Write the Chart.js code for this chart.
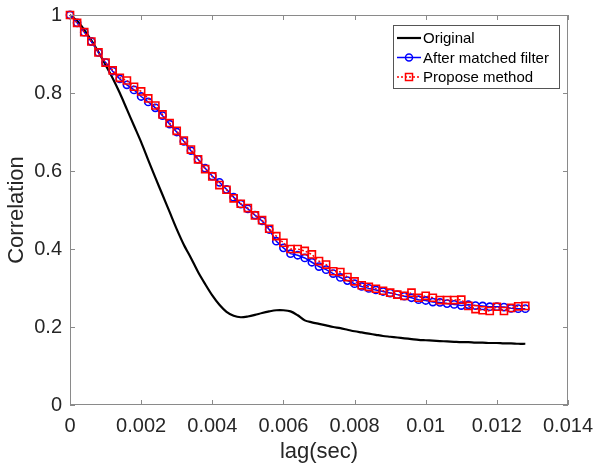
<!DOCTYPE html>
<html>
<head>
<meta charset="utf-8">
<script src="https://cdn.jsdelivr.net/npm/chart.js@4.4.1/dist/chart.umd.min.js"></script>
<style>
  body { margin: 0; background: #fff; }
  canvas { display: block; }
</style>
</head>
<body>
<canvas id="corr-chart" width="595" height="469"></canvas>
<script>
// lag axis (sec), one sample every 0.2 ms
const lag = [0, 0.0002, 0.0004, 0.0006, 0.0008, 0.001, 0.0012, 0.0014, 0.0016, 0.0018,
  0.002, 0.0022, 0.0024, 0.0026, 0.0028, 0.003, 0.0032, 0.0034, 0.0036, 0.0038,
  0.004, 0.0042, 0.0044, 0.0046, 0.0048, 0.005, 0.0052, 0.0054, 0.0056, 0.0058,
  0.006, 0.0062, 0.0064, 0.0066, 0.0068, 0.007, 0.0072, 0.0074, 0.0076, 0.0078,
  0.008, 0.0082, 0.0084, 0.0086, 0.0088, 0.009, 0.0092, 0.0094, 0.0096, 0.0098,
  0.01, 0.0102, 0.0104, 0.0106, 0.0108, 0.011, 0.0112, 0.0114, 0.0116, 0.0118,
  0.012, 0.0122, 0.0124, 0.0126, 0.0128]

const original = [1.000, 0.985, 0.962, 0.935, 0.905, 0.872, 0.838, 0.800, 0.758, 0.716,
  0.674, 0.628, 0.583, 0.539, 0.495, 0.451, 0.411, 0.377, 0.341, 0.310,
  0.281, 0.257, 0.239, 0.229, 0.225, 0.227, 0.231, 0.236, 0.240, 0.243,
  0.243, 0.240, 0.230, 0.217, 0.212, 0.208, 0.204, 0.200, 0.197, 0.193,
  0.189, 0.186, 0.183, 0.180, 0.177, 0.175, 0.173, 0.171, 0.169, 0.167,
  0.166, 0.165, 0.164, 0.163, 0.162, 0.161, 0.161, 0.160, 0.160, 0.159,
  0.159, 0.158, 0.158, 0.157, 0.157]

const matched = [1.000, 0.980, 0.956, 0.932, 0.904, 0.878, 0.856, 0.836, 0.821, 0.808,
  0.791, 0.777, 0.762, 0.742, 0.720, 0.700, 0.676, 0.652, 0.630, 0.607,
  0.587, 0.571, 0.553, 0.533, 0.515, 0.503, 0.487, 0.472, 0.450, 0.420,
  0.403, 0.388, 0.384, 0.377, 0.366, 0.355, 0.347, 0.337, 0.327, 0.319,
  0.311, 0.304, 0.299, 0.295, 0.291, 0.287, 0.283, 0.279, 0.275, 0.270,
  0.268, 0.264, 0.263, 0.260, 0.258, 0.255, 0.257, 0.255, 0.254, 0.252,
  0.252, 0.251, 0.248, 0.247, 0.247]

const proposed = [1.000, 0.980, 0.956, 0.932, 0.904, 0.878, 0.858, 0.839, 0.832, 0.816,
  0.804, 0.786, 0.768, 0.745, 0.723, 0.703, 0.678, 0.655, 0.630, 0.605,
  0.586, 0.564, 0.552, 0.530, 0.516, 0.505, 0.486, 0.474, 0.452, 0.433,
  0.416, 0.400, 0.400, 0.395, 0.386, 0.369, 0.360, 0.343, 0.341, 0.328,
  0.317, 0.307, 0.303, 0.298, 0.293, 0.288, 0.283, 0.280, 0.288, 0.275,
  0.280, 0.275, 0.269, 0.269, 0.269, 0.270, 0.254, 0.246, 0.243, 0.241,
  0.252, 0.241, 0.249, 0.253, 0.254]

const seriesNames = ["Original", "After matched filter", "Propose method"]
const xTicks = [0, 0.002, 0.004, 0.006, 0.008, 0.01, 0.012, 0.014]
const yTicks = [0, 0.2, 0.4, 0.6, 0.8, 1]

function pts(ys) { return ys.map((y, i) => ({x: lag[i], y: y})) }

const FONT = "'Liberation Sans', Arial, sans-serif"
const AXIS_COLOR = "#8a8a8a"

// matlab style box with inward ticks on all four sides
const boxPlugin = {
  id: "box",
  afterDraw(chart) {
    const ctx = chart.ctx, a = chart.chartArea
    const xs = chart.scales.x, ys = chart.scales.y
    ctx.save()
    ctx.strokeStyle = AXIS_COLOR
    ctx.lineWidth = 1
    ctx.strokeRect(a.left + 0.5, a.top + 0.5, a.right - a.left - 1, a.bottom - a.top - 1)
    ctx.beginPath()
    xTicks.forEach(v => {
      const px = Math.round(xs.getPixelForValue(v)) + 0.5
      ctx.moveTo(px, a.bottom); ctx.lineTo(px, a.bottom - 5)
      ctx.moveTo(px, a.top); ctx.lineTo(px, a.top + 5)
    })
    yTicks.forEach(v => {
      const py = Math.round(ys.getPixelForValue(v)) + 0.5
      ctx.moveTo(a.left, py); ctx.lineTo(a.left + 5, py)
      ctx.moveTo(a.right, py); ctx.lineTo(a.right - 5, py)
    })
    ctx.stroke()

    // legend
    const lx = 393, ly = 25, lw = 166, lh = 63
    ctx.fillStyle = "#fff"
    ctx.fillRect(lx, ly, lw, lh)
    ctx.strokeStyle = "#555"
    ctx.strokeRect(lx + 0.5, ly + 0.5, lw, lh)
    const rows = [38, 57.5, 77]
    ctx.font = "15px " + FONT
    ctx.textBaseline = "middle"
    chart.data.datasets.forEach((ds, i) => {
      const y = rows[i]
      ctx.strokeStyle = ds.borderColor
      ctx.lineWidth = ds.borderWidth
      ctx.setLineDash(ds.borderDash || [])
      ctx.beginPath(); ctx.moveTo(lx + 4, y); ctx.lineTo(lx + 28, y); ctx.stroke()
      ctx.setLineDash([])
      if (ds.pointRadius > 0) {
        ctx.lineWidth = 1.5
        ctx.beginPath()
        if (ds.pointStyle === "rect") ctx.rect(lx + 16 - 3.5, y - 3.5, 7, 7)
        else ctx.arc(lx + 16, y, 3.5, 0, Math.PI * 2)
        ctx.stroke()
      }
      ctx.fillStyle = "#000"
      ctx.fillText(ds.label, lx + 30, y + 1)
    })
    ctx.restore()
  }
}

const config = {
  type: "line",
  data: {
    datasets: [{
      label: seriesNames[0],
      data: pts(original),
      borderColor: "#000000",
      borderWidth: 2.2,
      pointRadius: 0,
      tension: 0.3,
      order: 2,
      clip: false
    }, {
      label: seriesNames[1],
      data: pts(matched),
      borderColor: "#0000ff",
      borderWidth: 1.5,
      pointStyle: "circle",
      pointRadius: 3.6,
      pointBorderWidth: 1.6,
      pointBorderColor: "#0000ff",
      pointBackgroundColor: "rgba(255,255,255,0)",
      order: 1,
      clip: false
    }, {
      label: seriesNames[2],
      data: pts(proposed),
      borderColor: "#ff0000",
      borderWidth: 1.5,
      borderDash: [2, 2],
      pointStyle: "rect",
      pointRadius: 5,
      pointBorderWidth: 1.6,
      pointBorderColor: "#ff0000",
      pointBackgroundColor: "rgba(255,255,255,0)",
      order: 0,
      clip: false
    }]
  },
  options: {
    responsive: false,
    animation: false,
    devicePixelRatio: 1,
    layout: {padding: {top: 15, right: 27, left: 0, bottom: 0}},
    plugins: {legend: {display: false}, tooltip: {enabled: false}},
    scales: {
      x: {
        type: "linear", min: 0, max: 0.014,
        afterBuildTicks: s => { s.ticks = xTicks.map(v => ({value: v})) },
        afterFit: s => { s.height = 64; s.paddingLeft = 0; s.paddingRight = 0 },
        grid: {display: false, drawTicks: false},
        border: {display: false},
        ticks: {
          padding: 9, color: "#262626",
          font: {family: FONT, size: 20},
          callback: v => String(+v.toFixed(4))
        },
        title: {display: true, text: "lag(sec)", color: "#262626", padding: {top: 2},
          font: {family: FONT, size: 22}}
      },
      y: {
        min: 0, max: 1,
        afterBuildTicks: s => { s.ticks = yTicks.map(v => ({value: v})) },
        afterFit: s => { s.width = 70; s.paddingTop = 0; s.paddingBottom = 0 },
        grid: {display: false, drawTicks: false},
        border: {display: false},
        ticks: {
          padding: 8, color: "#262626",
          font: {family: FONT, size: 20},
          callback: v => String(+v.toFixed(1))
        },
        title: {display: true, text: "Correlation", color: "#262626", padding: {bottom: 0},
          font: {family: FONT, size: 22}}
      }
    }
  },
  plugins: [boxPlugin]
}
new Chart(document.getElementById("corr-chart"), config)
</script>
</body>
</html>
